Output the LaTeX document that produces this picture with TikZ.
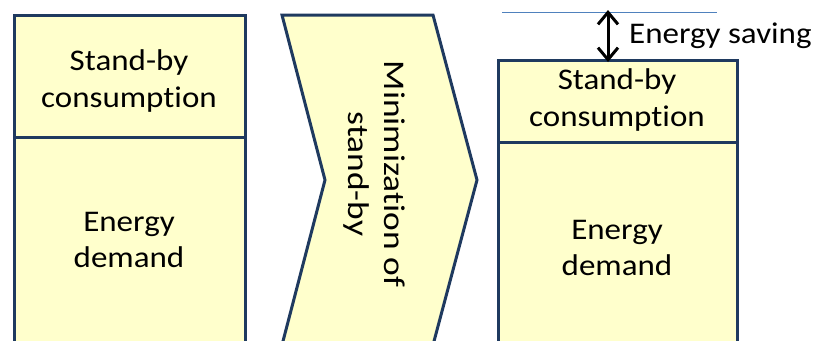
\documentclass[tikz,border=0pt]{standalone}
\usepackage{fontspec}
\setmainfont[Ligatures={NoCommon}]{Carlito}
\usetikzlibrary{arrows.meta}
\definecolor{boxfill}{HTML}{FFFFCC}
\definecolor{boxline}{HTML}{1F3A5F}
\definecolor{thinblue}{HTML}{4F81BD}
\newcommand{\sx}[1]{\scalebox{1.1}[1]{#1}}
\tikzset{
  blk/.style={draw=boxline, line width=3pt, fill=boxfill, line join=miter},
  lbl/.style={align=center, font=\fontsize{30}{36}\selectfont, inner sep=0pt},
  dbl/.style={black, line width=3pt, {Straight Barb[length=12pt,width=20pt,line width=3pt]}-{Straight Barb[length=12pt,width=20pt,line width=3pt]}},
}
\begin{document}
\begin{tikzpicture}[x=1pt,y=-1pt]
\useasboundingbox (0,0) rectangle (813,340);
\clip (0,0) rectangle (813,340);
% left column
\draw[blk] (14,15) rectangle (245,360);
\draw[boxline, line width=3pt] (14,137) -- (245,137);
\node[lbl] (ls) at (129,81) {\sx{Stand-by}\\\sx{consumption}};
\node[lbl] (le) at (129,240) {\sx{Energy}\\\sx{demand}};
% chevron
\draw[blk] (282,15) -- (433,15) -- (477,180) -- (433,345) -- (282,345) -- (325,180) -- cycle;
\node[lbl, rotate=-90] (ch) at (374,174) {\scalebox{1.18}[1]{Minimization of}\\\scalebox{1.18}[1]{stand-by}};
% right column
\draw[blk] (498,60) rectangle (737,360);
\draw[boxline, line width=3pt] (498,142) -- (737,142);
\node[lbl] (rs) at (617,100) {\sx{Stand-by}\\\sx{consumption}};
\node[lbl] (re) at (617,248) {\sx{Energy}\\\sx{demand}};
% energy saving marker
\coordinate (la) at (502,12.5);
\coordinate (lb) at (717,12.5);
\draw[thinblue, line width=1pt] (la) -- (lb);
\coordinate (at) at (608,10);
\coordinate (ab) at (608,62);
\draw[dbl] (at) -- (ab);
\node[lbl, anchor=west] (es) at (629,36) {\sx{Energy saving}};
\end{tikzpicture}
\end{document}
